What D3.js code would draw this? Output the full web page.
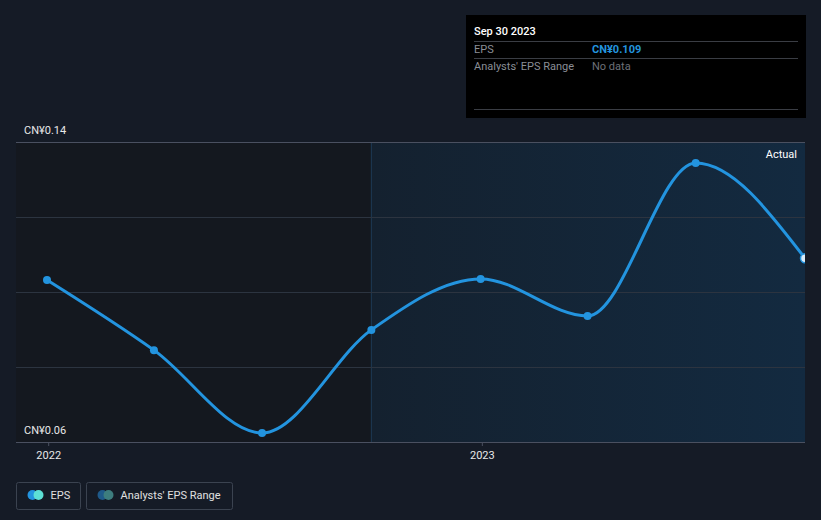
<!DOCTYPE html>
<html><head><meta charset="utf-8">
<script src="https://cdn.jsdelivr.net/npm/d3@7"></script>
<style>
html,body{margin:0;padding:0;background:#151b26;}
svg{display:block;font-family:Roboto,"Noto Sans",sans-serif;}
</style></head>
<body>
<svg id="c" width="821" height="520"></svg>
<script>
const dates = ["2021-12-31","2022-03-31","2022-06-30","2022-09-30","2022-12-31","2023-03-31","2023-06-30","2023-09-30"];
const eps = [0.1032, 0.0845, 0.0624, 0.0899, 0.1035, 0.0936, 0.1344, 0.109];
const yTicks = [0.06, 0.08, 0.10, 0.12, 0.14];
const yTickLabels = ["CN¥0.06", "CN¥0.14"];
const xTickLabels = ["2022", "2023"];
const legendItems = ["EPS", "Analysts' EPS Range"];
const tooltipRows = [["EPS", "CN¥0.109"], ["Analysts' EPS Range", "No data"]];
const tooltipTitle = "Sep 30 2023";
const pastStart = "2022-09-30";

const parse = d3.timeParse("%Y-%m-%d");
const data = dates.map((d, i) => ({date: parse(d), v: eps[i]}));
const svg = d3.select("#c");
const L = 16, R = 805, T = 142, B = 442;

const x = d3.scaleTime().domain([data[0].date, data[data.length-1].date]).range([47, 805]);
const y = d3.scaleLinear().domain([0.06, 0.14]).range([B, T]);

const defs = svg.append("defs");
const g = defs.append("linearGradient").attr("id","pg").attr("x1",0).attr("x2",1).attr("y1",0).attr("y2",0);
g.append("stop").attr("offset","0%").attr("stop-color","#14212f");
g.append("stop").attr("offset","100%").attr("stop-color","#132a40");
defs.append("clipPath").attr("id","clip").append("rect").attr("x",L).attr("y",0).attr("width",R-L).attr("height",B);

// backgrounds
const xp = x(parse(pastStart));
svg.append("rect").attr("x",L).attr("y",T).attr("width",xp-L).attr("height",B-T).attr("fill","#14181f");
svg.append("rect").attr("x",xp).attr("y",T).attr("width",R-xp).attr("height",B-T).attr("fill","url(#pg)");
svg.append("line").attr("x1",xp).attr("x2",xp).attr("y1",T).attr("y2",B).attr("stroke","#1d3a55").attr("stroke-width",1);

// gridlines
svg.append("g").selectAll("line").data(yTicks).join("line")
  .attr("x1",L).attr("x2",R).attr("y1",d=>Math.round(y(d))+0.5).attr("y2",d=>Math.round(y(d))+0.5)
  .attr("stroke",(d,i)=> i===0 ? "#4a5060" : (i===yTicks.length-1 ? "#4a5060" : "#2c3440")).attr("stroke-width",1);

// y labels
svg.append("g").selectAll("text").data([0.14, 0.06]).join("text")
  .attr("x",24).attr("y",d=>y(d)-8).attr("fill","#e8e8e8").attr("font-size",11).text((d,i)=>i===0?yTickLabels[1]:yTickLabels[0]);

// x axis
const xAxis = d3.axisBottom(x).tickValues([parse("2022-01-01"), parse("2023-01-01")])
  .tickFormat((d,i)=>xTickLabels[i]).tickSize(4).tickPadding(5);
const ax = svg.append("g").attr("transform",`translate(0,${B})`).call(xAxis);
ax.select(".domain").remove();
ax.selectAll(".tick line").attr("stroke","#4a5060");
ax.selectAll(".tick text").attr("fill","#e8e8e8").attr("font-size",11).attr("font-family","Roboto,sans-serif");

// line
const line = d3.line().x(d=>x(d.date)).y(d=>y(d.v)).curve(d3.curveMonotoneX);
const cg = svg.append("g").attr("clip-path","url(#clip)");
cg.append("path").datum(data).attr("d",line).attr("fill","none").attr("stroke","#2394df").attr("stroke-width",3);
cg.selectAll("circle").data(data).join("circle")
  .attr("cx",d=>x(d.date)).attr("cy",d=>y(d.v)).attr("r",(d,i)=>i===data.length-1?4.5:4)
  .attr("fill",(d,i)=>i===data.length-1?"#d8ecfa":"#2394df")
  .attr("stroke",(d,i)=>i===data.length-1?"#2394df":"none").attr("stroke-width",1.5);

svg.append("text").attr("x",797).attr("y",158).attr("text-anchor","end").attr("fill","#ffffff").attr("font-size",11).text("Actual");

// tooltip
const tt = svg.append("g");
tt.append("rect").attr("x",466).attr("y",15).attr("width",340).attr("height",103).attr("fill","#000");
tt.append("text").attr("x",474).attr("y",35).attr("fill","#fff").attr("font-size",11).attr("font-weight",500).text(tooltipTitle);
[41.5, 58.5, 109.5].forEach(yy=>tt.append("line").attr("x1",474).attr("x2",798).attr("y1",yy).attr("y2",yy).attr("stroke","#3a3d44"));
tooltipRows.forEach((r,i)=>{
  const yy = 53 + i*17;
  tt.append("text").attr("x",474).attr("y",yy).attr("fill","#8a8e96").attr("font-size",11).text(r[0]);
  tt.append("text").attr("x",592).attr("y",yy).attr("fill",i===0?"#2394df":"#6d7078").attr("font-size",11).attr("font-weight",i===0?700:400).text(r[1]);
});

// legend
const lg = svg.append("g");
const lw = [64, 146], lx = [16.5, 86.5];
const cols = [["#2394df","#5de0d5"],["#1f5a8a","#3d7d7e"]];
legendItems.forEach((t,i)=>{
  lg.append("rect").attr("x",lx[i]).attr("y",482.5).attr("width",lw[i]).attr("height",27).attr("rx",2)
    .attr("fill","none").attr("stroke","#3b4350");
  lg.append("circle").attr("cx",lx[i]+16).attr("cy",495).attr("r",5).attr("fill",cols[i][0]);
  lg.append("circle").attr("cx",lx[i]+22).attr("cy",495).attr("r",5).attr("fill",cols[i][1]);
  lg.append("text").attr("x",lx[i]+34).attr("y",499).attr("fill","#e0e0e0").attr("font-size",11).text(t);
});
</script>
</body></html>
